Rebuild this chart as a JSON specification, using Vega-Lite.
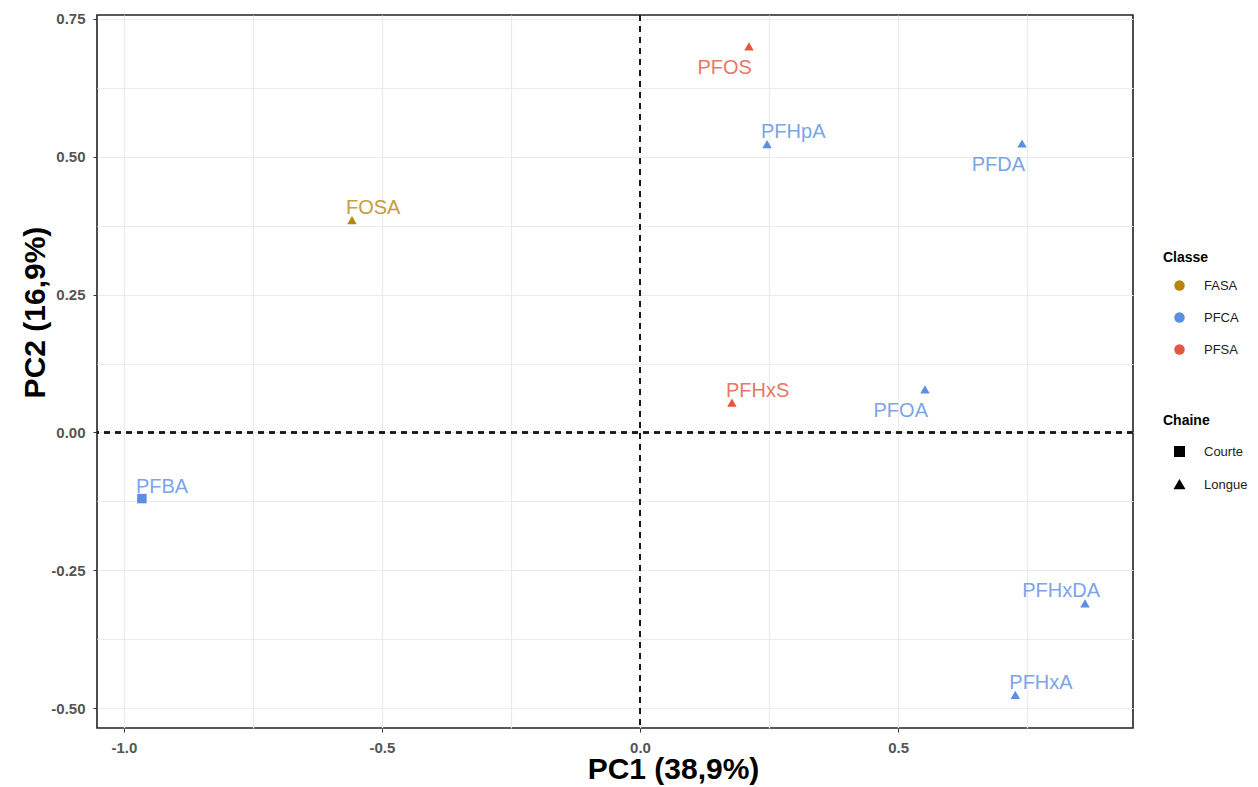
{
  "$schema": "https://vega.github.io/schema/vega-lite/v6.json",
  "width": 1036,
  "height": 713,
  "autosize": {"type": "none"},
  "padding": {"left": 97, "top": 15, "right": 125, "bottom": 59},
  "background": "white",
  "config": {
    "font": "Liberation Sans",
    "view": {"stroke": "#222222", "strokeWidth": 1.6},
    "axis": {
      "gridColor": "#EBEBEB",
      "gridWidth": 1.2,
      "domain": false,
      "tickColor": "#333333",
      "tickSize": 4,
      "tickWidth": 1,
      "labelFont": "Liberation Sans",
      "labelFontWeight": "bold",
      "labelFontSize": 15,
      "labelColor": "#555555",
      "labelOverlap": false,
      "labelFlush": false,
      "titleFont": "Liberation Sans",
      "titleFontWeight": "bold",
      "titleFontSize": 30,
      "titleColor": "#000000"
    },
    "legend": {
      "titleFont": "Liberation Sans",
      "titleFontSize": 14,
      "titleFontWeight": "bold",
      "titleColor": "#000000",
      "labelFont": "Liberation Sans",
      "labelFontSize": 13,
      "labelColor": "#222222",
      "rowPadding": 18,
      "titlePadding": 14,
      "symbolOffset": 10,
      "labelOffset": 18
    }
  },
  "data": {
    "values": [
      {"Nom": "PFOS", "PC1": 0.211, "PC2": 0.700, "Classe": "PFSA", "Chaine": "Longue"},
      {"Nom": "PFHpA", "PC1": 0.246, "PC2": 0.523, "Classe": "PFCA", "Chaine": "Longue"},
      {"Nom": "PFDA", "PC1": 0.740, "PC2": 0.524, "Classe": "PFCA", "Chaine": "Longue"},
      {"Nom": "FOSA", "PC1": -0.558, "PC2": 0.385, "Classe": "FASA", "Chaine": "Longue"},
      {"Nom": "PFHxS", "PC1": 0.178, "PC2": 0.054, "Classe": "PFSA", "Chaine": "Longue"},
      {"Nom": "PFOA", "PC1": 0.552, "PC2": 0.078, "Classe": "PFCA", "Chaine": "Longue"},
      {"Nom": "PFBA", "PC1": -0.965, "PC2": -0.120, "Classe": "PFCA", "Chaine": "Courte"},
      {"Nom": "PFHxDA", "PC1": 0.862, "PC2": -0.310, "Classe": "PFCA", "Chaine": "Longue"},
      {"Nom": "PFHxA", "PC1": 0.727, "PC2": -0.476, "Classe": "PFCA", "Chaine": "Longue"}
    ]
  },
  "encoding": {
    "x": {
      "field": "PC1",
      "type": "quantitative",
      "scale": {"domain": [-1.052, 0.955], "nice": false, "zero": false},
      "axis": {
        "title": "PC1 (38,9%)",
        "values": [-1, -0.75, -0.5, -0.25, 0, 0.25, 0.5, 0.75],
        "labelExpr": "abs(datum.value*2-round(datum.value*2))<0.001 ? replace(format(datum.value,'.1f'),'\u2212','-') : ''",
        "tickOpacity": {"condition": {"test": "abs(datum.value*2-round(datum.value*2))<0.001", "value": 1}, "value": 0},
        "labelPadding": 8,
        "titleX": 576,
        "titleY": 50,
        "titleAlign": "center",
        "titleBaseline": "alphabetic"
      }
    },
    "y": {
      "field": "PC2",
      "type": "quantitative",
      "scale": {"domain": [-0.536, 0.757], "nice": false, "zero": false},
      "axis": {
        "title": "PC2 (16,9%)",
        "values": [-0.5, -0.375, -0.25, -0.125, 0, 0.125, 0.25, 0.375, 0.5, 0.625, 0.75],
        "labelExpr": "abs(datum.value*4-round(datum.value*4))<0.001 ? replace(format(datum.value,'.2f'),'\u2212','-') : ''",
        "tickOpacity": {"condition": {"test": "abs(datum.value*4-round(datum.value*4))<0.001", "value": 1}, "value": 0},
        "labelPadding": 8,
        "titleX": -53,
        "titleY": 297,
        "titleAngle": 270,
        "titleAlign": "center",
        "titleBaseline": "alphabetic"
      }
    }
  },
  "layer": [
    {
      "mark": {"type": "rule", "color": "#1a1a1a", "strokeDash": [6, 5], "strokeWidth": 1.4},
      "encoding": {"x": {"datum": 0, "type": "quantitative"}, "y": null}
    },
    {
      "mark": {"type": "rule", "color": "#1a1a1a", "strokeDash": [6, 5], "strokeWidth": 1.4},
      "encoding": {"y": {"datum": 0, "type": "quantitative"}, "x": null}
    },
    {
      "mark": {"type": "point", "filled": true, "opacity": 1, "size": 90},
      "encoding": {
        "color": {
          "field": "Classe",
          "type": "nominal",
          "scale": {"domain": ["FASA", "PFCA", "PFSA"], "range": ["#B8860B", "#5B8FE3", "#E4563F"]},
          "legend": {"title": "Classe", "orient": "none", "legendX": 1066, "legendY": 236, "symbolType": "circle", "symbolSize": 110}
        },
        "shape": {
          "field": "Chaine",
          "type": "nominal",
          "scale": {"domain": ["Courte", "Longue"], "range": ["square", "triangle-up"]},
          "legend": {"title": "Chaine", "orient": "none", "legendX": 1066, "legendY": 399, "symbolFillColor": "#000000", "symbolStrokeColor": "#000000", "symbolSize": 90, "titlePadding": 17, "rowPadding": 17}
        }
      }
    },
    {
      "transform": [{"filter": {"field": "Nom", "oneOf": ["PFOS", "PFDA", "PFOA"]}}],
      "mark": {"type": "text", "fontSize": 20, "align": "right", "baseline": "alphabetic", "dx": 3, "dy": 28, "opacity": 0.8},
      "encoding": {"text": {"field": "Nom"}, "color": {"field": "Classe", "type": "nominal"}}
    },
    {
      "transform": [{"filter": {"field": "Nom", "oneOf": ["PFHpA", "FOSA", "PFHxS", "PFBA", "PFHxA"]}}],
      "mark": {"type": "text", "fontSize": 20, "align": "left", "baseline": "alphabetic", "dx": -6, "dy": -6, "opacity": 0.8},
      "encoding": {"text": {"field": "Nom"}, "color": {"field": "Classe", "type": "nominal"}}
    },
    {
      "transform": [{"filter": {"field": "Nom", "equal": "PFHxDA"}}],
      "mark": {"type": "text", "fontSize": 20, "align": "right", "baseline": "alphabetic", "dx": 15, "dy": -6, "opacity": 0.8},
      "encoding": {"text": {"field": "Nom"}, "color": {"field": "Classe", "type": "nominal"}}
    }
  ]
}
